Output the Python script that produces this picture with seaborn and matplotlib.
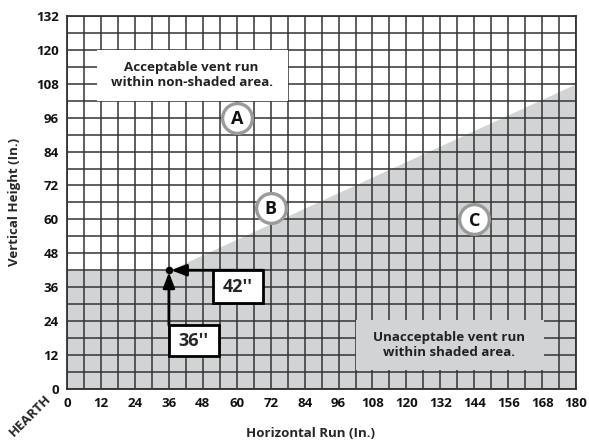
import matplotlib
matplotlib.use("Agg")
import matplotlib.pyplot as plt
from matplotlib.patches import Rectangle
import pandas as pd
import seaborn as sns

# shaded (unacceptable) region boundary
boundary_x = [0, 36, 180]
boundary_y = [42, 42, 108]

x_ticks = list(range(0, 181, 12))
y_ticks = list(range(0, 133, 12))

# zone markers
zone_labels = ["A", "B", "C"]
zone_x = [60, 72, 144]
zone_y = [96, 64, 60]

# minimum hearth clearance point
min_x = 36
min_y = 42

GRAY = "#d1d3d4"

sns.set_style("white")
plt.rcParams['font.family'] = ['Open Sans', 'DejaVu Sans']
plt.rcParams['font.weight'] = 'bold'

fig = plt.figure(figsize=(5.89, 4.41), dpi=100)
ax = fig.add_axes([0.114, 0.118, 0.864, 0.846])

# shaded area
ax.fill_between(boundary_x, 0, boundary_y, color=GRAY, linewidth=0, zorder=0)

ax.set_xlim(0, 180)
ax.set_ylim(0, 132)
ax.set_xticks(x_ticks)
ax.set_yticks(y_ticks)
ax.set_xticks(range(0, 181, 6), minor=True)
ax.set_yticks(range(0, 133, 6), minor=True)
ax.grid(True, which="both", color="#333333", linewidth=1.1)
ax.set_axisbelow(False)
ax.tick_params(which="both", length=0, labelsize=9.5, pad=6, labelcolor="#111111")
for lab in ax.get_xticklabels() + ax.get_yticklabels():
    lab.set_fontweight("bold")
for sp in ax.spines.values():
    sp.set_color("#222222")
    sp.set_linewidth(1.2)

# text boxes covering the grid
ax.add_patch(Rectangle((10.5, 102), 67.5, 18, facecolor="white", edgecolor="none", zorder=3))
ax.text(44, 111, "Acceptable vent run\nwithin non-shaded area.", ha="center", va="center",
        fontsize=9.6, fontweight="bold", color="#222222", zorder=4, linespacing=1.2)
ax.add_patch(Rectangle((102, 6.8), 66.5, 17.6, facecolor=GRAY, edgecolor="none", zorder=3))
ax.text(135, 15.6, "Unacceptable vent run\nwithin shaded area.", ha="center", va="center",
        fontsize=9.6, fontweight="bold", color="#222222", zorder=4, linespacing=1.2)

# zone circles
zones = pd.DataFrame({"x": zone_x, "y": zone_y, "label": zone_labels})
sns.scatterplot(data=zones, x="x", y="y", s=460, color="white", edgecolor="#9a9a9a",
                linewidth=2.4, ax=ax, zorder=4)
for _, r in zones.iterrows():
    ax.text(r["x"], r["y"] - 0.4, r["label"], ha="center", va="center", fontsize=13,
            fontweight="bold", color="#111111", zorder=5)

# dimension arrows
ax.annotate("", xy=(min_x, min_y - 0.8), xytext=(min_x, 22.5),
            arrowprops=dict(arrowstyle="-|>,head_length=0.9,head_width=0.35", color="black", lw=2,
                            shrinkA=0, shrinkB=0), zorder=6)
ax.annotate("", xy=(min_x + 0.8, min_y), xytext=(69.3, min_y),
            arrowprops=dict(arrowstyle="-|>,head_length=0.9,head_width=0.35", color="black", lw=2,
                            shrinkA=0, shrinkB=0), zorder=6)
sns.scatterplot(x=[min_x], y=[min_y], s=30, color="black", ax=ax, zorder=7, linewidth=0)

ax.add_patch(Rectangle((36, 11.8), 17.6, 10.7, facecolor="white", edgecolor="black", linewidth=2, zorder=6))
ax.text(44.8, 17.0, "36''", ha="center", va="center", fontsize=13, fontweight="bold", zorder=7)
ax.add_patch(Rectangle((51.6, 30.4), 17.7, 11.6, facecolor="white", edgecolor="black", linewidth=2, zorder=6))
ax.text(60.4, 36.0, "42''", ha="center", va="center", fontsize=13, fontweight="bold", zorder=7)

ax.set_xlabel("Horizontal Run (In.)", fontsize=9.5, fontweight="bold")
ax.xaxis.set_label_coords(0.479, -0.102)
ax.set_ylabel("Vertical Height (In.)", fontsize=9.5, fontweight="bold")
ax.yaxis.set_label_coords(-0.09, 0.5)
fig.text(0.051, 0.058, "HEARTH", rotation=45, fontsize=9.5, fontweight="bold", ha="center", va="center")

fig.savefig("out.png", dpi=100)
